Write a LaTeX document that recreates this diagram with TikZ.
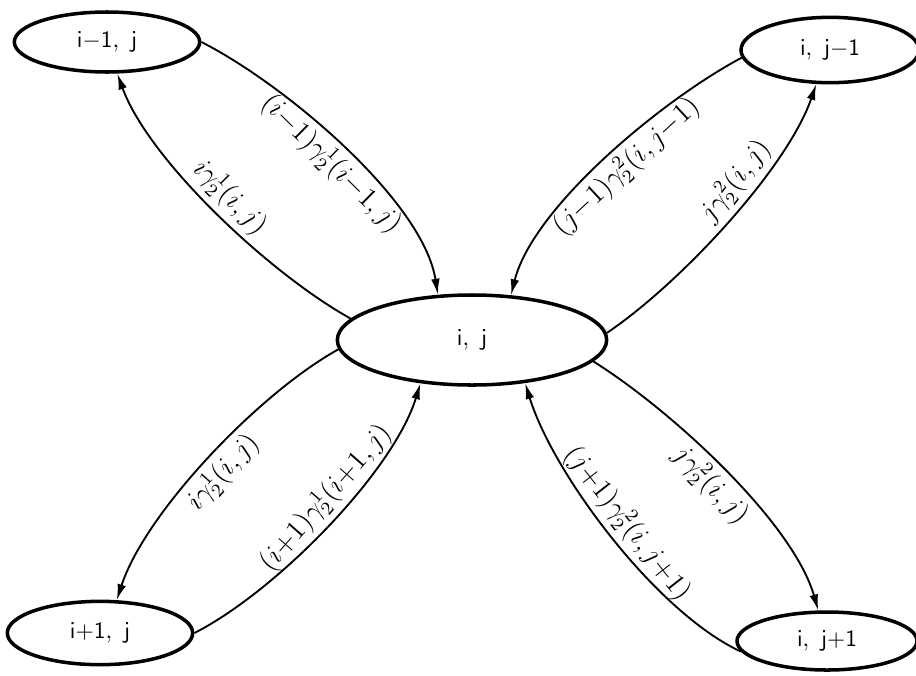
\documentclass[tikz,border=0pt]{standalone}
\usetikzlibrary{shapes.geometric,arrows.meta}
\begin{document}
\begin{tikzpicture}[x=0.015cm,y=0.015cm,
  state/.style={draw,ellipse,line width=1.5pt,inner sep=0pt},
  flow/.style={line width=0.8pt,looseness=0.7,-{Latex[length=2.4mm,width=1.3mm]}},
  lab/.style={sloped,midway,inner sep=2pt,font=\large}]
  \useasboundingbox (0,0) rectangle (916,675);
  % the five states
  \node[state,minimum width=4.04cm,minimum height=1.35cm] (C) at (472,335) {$\mathsf{i,\ j}$};
  \node[state,minimum width=2.78cm,minimum height=0.9cm] (NW) at (107,633) {$\mathsf{i{-}1,\ j}$};
  \node[state,minimum width=2.67cm,minimum height=0.98cm] (NE) at (830,625) {$\mathsf{i,\ j{-}1}$};
  \node[state,minimum width=2.78cm,minimum height=0.95cm] (SW) at (100,42) {$\mathsf{i{+}1,\ j}$};
  \node[state,minimum width=2.7cm,minimum height=0.87cm] (SE) at (827,34) {$\mathsf{i,\ j{+}1}$};
  % transitions
  \draw[flow] (NW.east) to[out=-27,in=99] node[lab,below]{$(i{-}1)\gamma_2^1(i{-}1,j)$} (C.127);
  \draw[flow] (C.170) to[out=151,in=-70] node[lab,above]{$i\gamma_2^1(i,j)$} (NW.288);
  \draw[flow] (NE.185) to[out=208,in=76] node[lab,below,pos=.47]{$(j{-}1)\gamma_2^2(i,j{-}1)$} (C.49);
  \draw[flow] (C.3) to[out=34,in=251] node[lab,above,pos=.6]{$j\gamma_2^2(i,j)$} (NE.248);
  \draw[flow] (C.184) to[out=209,in=72] node[lab,below]{$i\gamma_2^1(i,j)$} (SW.63);
  \draw[flow] (SW.0) to[out=27,in=253] node[lab,above,pos=.55]{$(i{+}1)\gamma_2^1(i{+}1,j)$} (C.220);
  \draw[flow] (SE.187) to[out=155,in=287] node[lab,above]{$(j{+}1)\gamma_2^2(i,j{+}1)$} (C.321);
  \draw[flow] (C.350) to[out=-32,in=106] node[lab,below]{$j\gamma_2^2(i,j)$} (SE.106);
\end{tikzpicture}
\end{document}
